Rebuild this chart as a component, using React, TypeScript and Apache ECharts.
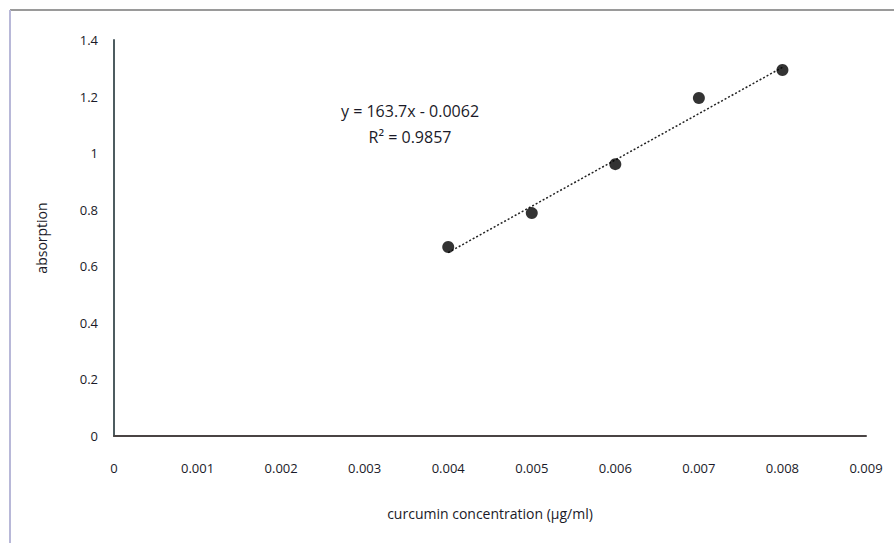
import React, { useEffect, useRef } from "react";
import * as echarts from "echarts";

const concentrations = [0.004, 0.005, 0.006, 0.007, 0.008];
const absorption = [0.668, 0.788, 0.961, 1.195, 1.294];
const trendSlope = 163.7;
const trendIntercept = -0.0062;
const equationLines = ["y = 163.7x - 0.0062", "R² = 0.9857"];
const xTickLabels = ["0", "0.001", "0.002", "0.003", "0.004", "0.005", "0.006", "0.007", "0.008", "0.009"];
const yTickLabels = ["0", "0.2", "0.4", "0.6", "0.8", "1", "1.2", "1.4"];

const FONT = "'Open Sans', 'Noto Sans', sans-serif";
const TEXT = "#1a1a28";

export default function App() {
  const ref = useRef<HTMLDivElement>(null);
  useEffect(() => {
    if (!ref.current) return;
    const chart = echarts.init(ref.current, null, { renderer: "svg" });
    const xStart = concentrations[0];
    const xEnd = concentrations[concentrations.length - 1];
    const trend = [
      [xStart, trendSlope * xStart + trendIntercept],
      [xEnd, trendSlope * xEnd + trendIntercept],
    ];
    chart.setOption({
      animation: false,
      backgroundColor: "#ffffff",
      grid: { left: 114, right: 28, top: 40, bottom: 107, containLabel: false },
      xAxis: {
        type: "value",
        min: 0,
        max: 0.009,
        interval: 0.001,
        name: "curcumin concentration (µg/ml)",
        nameLocation: "middle",
        nameGap: 70,
        nameTextStyle: { fontFamily: FONT, fontSize: 14, color: TEXT },
        axisLine: { show: true, onZero: false, lineStyle: { color: "#4a4444", width: 2 } },
        axisTick: { show: false },
        splitLine: { show: false },
        axisLabel: {
          fontFamily: FONT,
          fontSize: 13,
          color: TEXT,
          margin: 25,
          formatter: (_v: number, i: number) => xTickLabels[i] ?? "",
        },
      },
      yAxis: {
        type: "value",
        min: 0,
        max: 1.4,
        interval: 0.2,
        name: "absorption",
        nameLocation: "middle",
        nameGap: 66,
        nameTextStyle: { fontFamily: FONT, fontSize: 14, color: TEXT },
        axisLine: { show: true, lineStyle: { color: "#4d5c60", width: 2 } },
        axisTick: { show: false },
        splitLine: { show: false },
        axisLabel: {
          fontFamily: FONT,
          fontSize: 13,
          color: TEXT,
          margin: 16,
          formatter: (_v: number, i: number) => yTickLabels[i] ?? "",
        },
      },
      graphic: [
        { type: "line", shape: { x1: 10, y1: 10, x2: 894, y2: 10 }, style: { stroke: "#9a9a9a", lineWidth: 2 } },
        { type: "line", shape: { x1: 10, y1: 10, x2: 10, y2: 543 }, style: { stroke: "#b8b8d8", lineWidth: 2 } },
        {
          type: "text",
          x: 410,
          y: 111,
          style: {
            text: equationLines[0],
            fontFamily: FONT,
            fontSize: 16,
            fill: TEXT,
            align: "center",
            verticalAlign: "middle",
          },
        },
        {
          type: "text",
          x: 410,
          y: 137,
          style: {
            text: equationLines[1],
            fontFamily: FONT,
            fontSize: 16,
            fill: TEXT,
            align: "center",
            verticalAlign: "middle",
          },
        },
      ],
      series: [
        {
          type: "line",
          data: trend,
          symbol: "none",
          lineStyle: { color: "#222", width: 1.5, type: [2, 2] },
          z: 2,
        },
        {
          type: "scatter",
          data: concentrations.map((x, i) => [x, absorption[i]]),
          symbol: "circle",
          symbolSize: 12,
          itemStyle: { color: "#000" },
          z: 3,
        },
      ],
    });
    return () => chart.dispose();
  }, []);
  return (
    <div
      ref={ref}
      style={{ position: "fixed", left: 0, top: 0, width: 894, height: 543, background: "#fff" }}
    />
  );
}
